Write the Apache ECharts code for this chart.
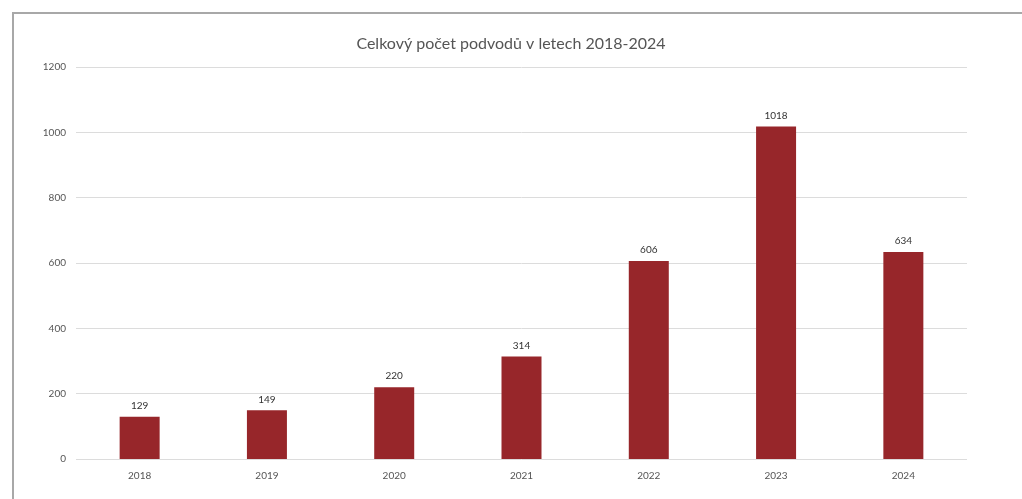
<!DOCTYPE html>
<html>
<head>
<meta charset="utf-8">
<script src="https://cdn.jsdelivr.net/npm/echarts@6/dist/echarts.min.js"></script>
<style>
  html, body { margin: 0; padding: 0; background: #fff; }
  #wrap { position: relative; width: 1022px; height: 499px; overflow: hidden; }
  #chart { position: absolute; left: 0; top: 0; width: 1022px; height: 499px; }
  #frame { position: absolute; left: 12px; top: 12px; width: 1100px; height: 600px;
           border-left: 2px solid #a8a8a8; border-top: 2px solid #a8a8a8; pointer-events: none; }
</style>
</head>
<body>
<div id="wrap">
  <div id="chart"></div>
  <div id="frame"></div>
</div>
<script>
// Fraud counts per year
const years = ['2018', '2019', '2020', '2021', '2022', '2023', '2024'];
const fraudCounts = [129, 149, 220, 314, 606, 1018, 634];
const titleText = 'Celkový počet podvodů v letech 2018-2024';

const chart = echarts.init(document.getElementById('chart'), null, { renderer: 'canvas' });
chart.setOption({
  animation: false,
  textStyle: { fontFamily: 'Lato, "Open Sans", sans-serif' },
  title: {
    text: titleText,
    left: 'center',
    top: 31,
    textStyle: { fontSize: 16, fontWeight: 'normal', color: '#555', fontFamily: 'Lato, "Open Sans", sans-serif' }
  },
  grid: { left: 76, right: 55, top: 67, bottom: 40, containLabel: false },
  xAxis: {
    type: 'category',
    data: years,
    axisLine: { show: false },
    axisTick: { show: false },
    axisLabel: { color: '#555', fontSize: 10, margin: 12 }
  },
  yAxis: {
    type: 'value',
    min: 0,
    max: 1200,
    interval: 200,
    axisLine: { show: false },
    axisTick: { show: false },
    axisLabel: { color: '#555', fontSize: 10, margin: 10, formatter: (v) => String(v) },
    splitLine: { lineStyle: { color: '#dcdcdc', width: 1 } }
  },
  series: [{
    type: 'bar',
    data: fraudCounts,
    barWidth: 40,
    itemStyle: { color: '#97262a' },
    label: { show: true, position: 'top', distance: 6, color: '#333', fontSize: 10 }
  }]
});
</script>
</body>
</html>
